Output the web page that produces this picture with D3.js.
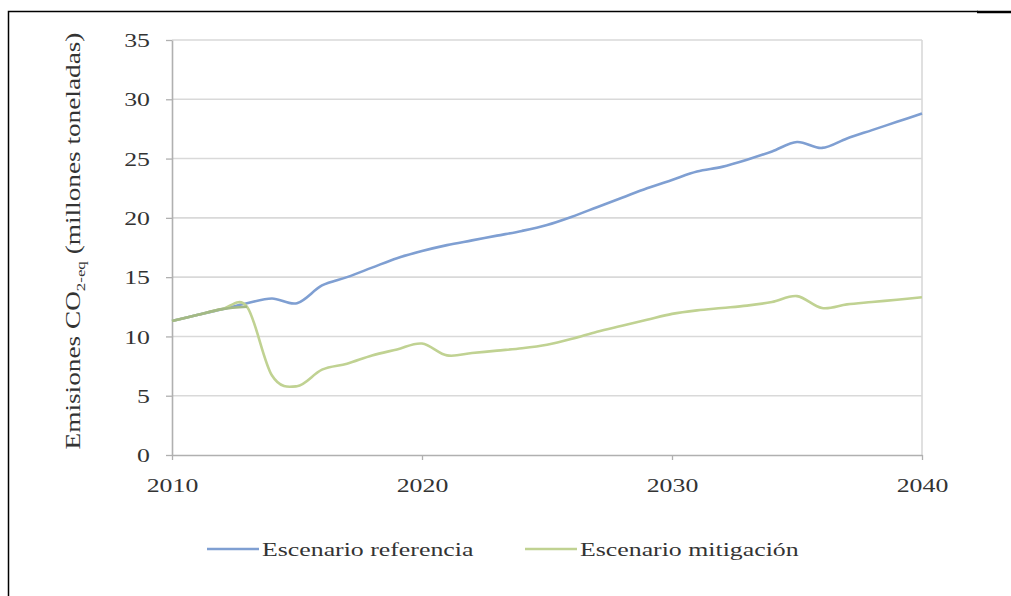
<!DOCTYPE html>
<html><head><meta charset="utf-8">
<script src="https://cdn.jsdelivr.net/npm/d3@7"></script>
<style>
html,body{margin:0;padding:0;background:#fff;}
svg{display:block;}
text{font-family:"Liberation Serif","Times New Roman",serif;fill:#333;}
</style></head>
<body>
<svg id="chart" width="1011" height="596"></svg>
<script>
// ---- data ----
const years = d3.range(2010, 2041);
const referencia = [11.3, 11.8, 12.3, 12.8, 13.2, 12.8, 14.3, 15.0, 15.8, 16.6, 17.2,
  17.7, 18.1, 18.5, 18.9, 19.4, 20.1, 20.9, 21.7, 22.5, 23.2,
  23.9, 24.3, 24.9, 25.6, 26.4, 25.9, 26.7, 27.4, 28.1, 28.8];
const mitigacion = [11.3, 11.8, 12.3, 12.5, 6.7, 5.8, 7.2, 7.7, 8.4, 8.9, 9.4,
  8.4, 8.6, 8.8, 9.0, 9.3, 9.8, 10.4, 10.9, 11.4, 11.9,
  12.2, 12.4, 12.6, 12.9, 13.4, 12.4, 12.7, 12.9, 13.1, 13.3];
const seriesNames = ["Escenario referencia", "Escenario mitigación"];
const seriesColors = ["#7f9fd2", "#c0d292"];
const yTicks = [0, 5, 10, 15, 20, 25, 30, 35];
const xTicks = [2010, 2020, 2030, 2040];

const SX = 1.36; // horizontal stretch of lettering in reference
const svg = d3.select("#chart");
svg.append("rect").attr("width", 1011).attr("height", 596).attr("fill", "#fff");

// frame
svg.append("path").attr("d", "M8.5,596V11.5H978").attr("fill", "none").attr("stroke", "#000").attr("stroke-width", 1.5);
svg.append("path").attr("d", "M977,12H1011").attr("fill", "none").attr("stroke", "#000").attr("stroke-width", 2.5);

const x = d3.scaleLinear().domain([2010, 2040]).range([172, 922]);
const y = d3.scaleLinear().domain([0, 35]).range([455, 40]);

// gridlines
svg.append("g").selectAll("line").data(yTicks.filter(d => d > 0)).join("line")
  .attr("x1", x(2010)).attr("x2", x(2040)).attr("y1", d => y(d)).attr("y2", d => y(d))
  .attr("stroke", "#d9d9d9").attr("stroke-width", 1.6);
svg.append("line").attr("x1", x(2040)).attr("x2", x(2040)).attr("y1", y(35)).attr("y2", y(0))
  .attr("stroke", "#d9d9d9").attr("stroke-width", 1.6);

// axes
const yAxis = svg.append("g").attr("transform", `translate(${x(2010)},0)`)
  .call(d3.axisLeft(y).tickValues(yTicks).tickSize(6).tickSizeOuter(0).tickFormat(d3.format("d")));
const xAxis = svg.append("g").attr("transform", `translate(0,${y(0)})`)
  .call(d3.axisBottom(x).tickValues(xTicks).tickSize(5).tickSizeOuter(0).tickFormat(d3.format("d")));
[yAxis, xAxis].forEach(g => {
  g.select(".domain").attr("stroke", "#b0b0b0").attr("stroke-width", 1.6);
  g.selectAll(".tick line").attr("stroke", "#b0b0b0").attr("stroke-width", 1.3);
  g.selectAll("text").attr("font-size", 19).attr("fill", "#333")
    .attr("font-family", '"Liberation Serif","Times New Roman",serif');
});
yAxis.selectAll("text").attr("x", -22 / SX).attr("dy", "0.35em").attr("transform", `scale(${SX},1)`);
xAxis.selectAll("text").attr("y", 24).attr("dy", "0.71em").attr("transform", `scale(${SX},1)`);

// lines
const line = d3.line().x((d, i) => x(years[i])).y(d => y(d)).curve(d3.curveCatmullRom.alpha(0));
[referencia, mitigacion].forEach((s, k) => {
  svg.append("path").datum(s).attr("d", line).attr("fill", "none")
    .attr("stroke", seriesColors[k]).attr("stroke-width", 2.6).attr("stroke-linejoin", "round");
});
// overlapping start segment looks darker where both lines coincide
svg.append("path").datum(mitigacion.slice(0, 4)).attr("d", line).attr("fill", "none")
  .attr("stroke", "#a3b985").attr("stroke-width", 2.6).attr("stroke-linejoin", "round");

// y label
const yl = svg.append("text").attr("transform", `translate(80,241) rotate(-90)`)
  .attr("text-anchor", "middle").attr("font-size", 21).attr("fill", "#333");
yl.append("tspan").text("Emisiones CO");
yl.append("tspan").attr("font-size", 13).attr("dy", 5).text("2-eq");
yl.append("tspan").attr("dy", -5).text(" (millones toneladas)");
const natural = yl.node().getComputedTextLength();
yl.attr("transform", `translate(80,241) rotate(-90) scale(${417 / natural},1)`);

// legend
const legX = [207, 525];
seriesNames.forEach((n, k) => {
  svg.append("line").attr("x1", legX[k]).attr("x2", legX[k] + 52).attr("y1", 549).attr("y2", 549)
    .attr("stroke", seriesColors[k]).attr("stroke-width", 2.6);
  svg.append("text").attr("transform", `translate(${legX[k] + 55},556) scale(${SX},1)`)
    .attr("font-size", 19).attr("fill", "#333").text(n);
});
</script>
</body></html>
